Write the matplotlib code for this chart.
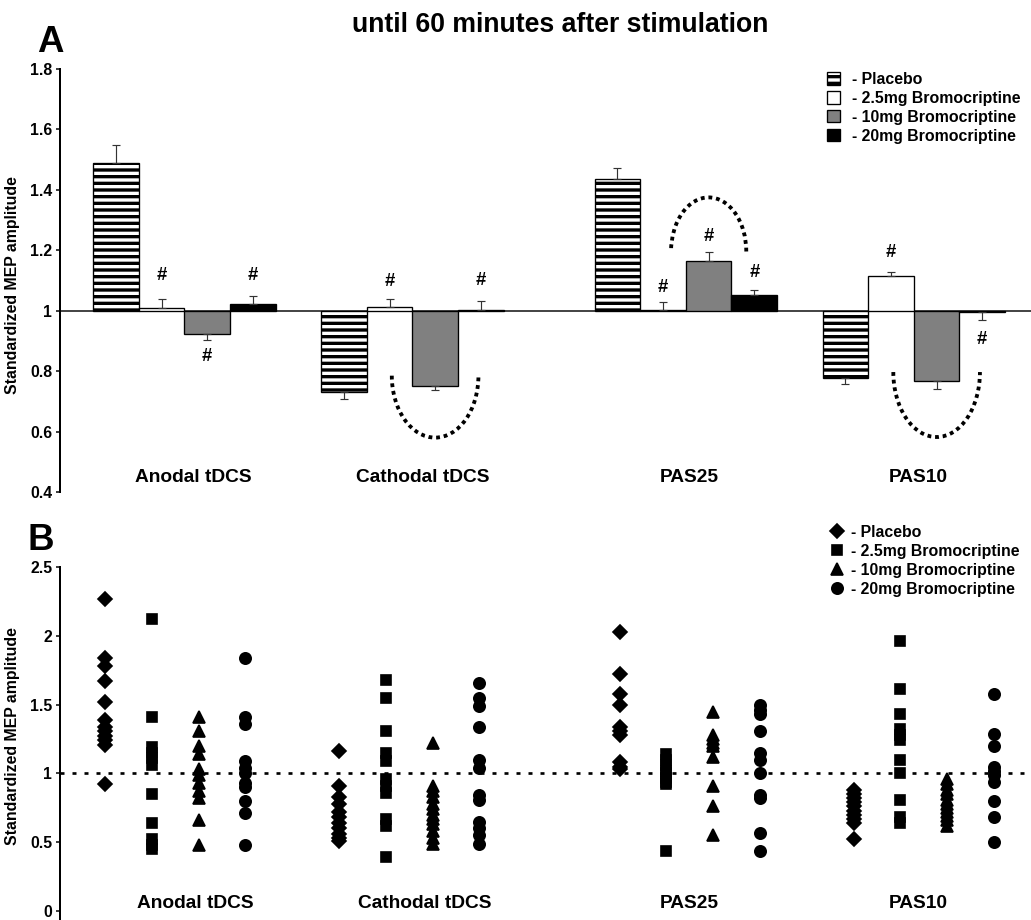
import numpy as np
import matplotlib
matplotlib.use('Agg')
import matplotlib.pyplot as plt
from matplotlib.patches import Arc
from matplotlib.lines import Line2D

plt.rcParams['font.family'] = ['Liberation Sans', 'DejaVu Sans']
plt.rcParams['font.weight'] = 'bold'
plt.rcParams['axes.labelweight'] = 'bold'
plt.rcParams['hatch.linewidth'] = 2.0

# ---- data ----
protocols = ['Anodal tDCS', 'Cathodal tDCS', 'PAS25', 'PAS10']
drugs = ['- Placebo', '- 2.5mg Bromocriptine', '- 10mg Bromocriptine', '- 20mg Bromocriptine']
group_start = [0, 5, 11, 16]

# panel A: mean standardized MEP amplitude (one value per protocol)
bar_placebo = [1.488, 0.732, 1.435, 0.777]
bar_2_5 = [1.009, 1.012, 1.002, 1.114]
bar_10 = [0.924, 0.752, 1.164, 0.768]
bar_20 = [1.023, 1.004, 1.053, 0.995]
err_placebo = [0.062, 0.024, 0.038, 0.019]
err_2_5 = [0.030, 0.027, 0.026, 0.013]
err_10 = [0.020, 0.014, 0.029, 0.028]
err_20 = [0.027, 0.027, 0.014, 0.025]

# '#' marks: (protocol, drug, y)
hash_marks = [(0, 1, 1.116), (0, 2, 0.847), (0, 3, 1.116),
              (1, 1, 1.096), (1, 3, 1.100),
              (2, 1, 1.076), (2, 2, 1.245), (2, 3, 1.126),
              (3, 1, 1.192), (3, 3, 0.904)]

# dotted brackets: (protocol, width, base y, depth, direction)
arcs = [(1, 1.9, 0.785, 0.205, 'down'),
        (2, 1.65, 1.196, 0.179, 'up'),
        (3, 1.9, 0.797, 0.215, 'down')]

# panel B: individual subjects
pts_placebo = [
    [2.27, 1.84, 1.78, 1.67, 1.52, 1.39, 1.34, 1.31, 1.27, 1.24, 1.21, 0.92],
    [1.16, 0.91, 0.83, 0.78, 0.72, 0.68, 0.64, 0.60, 0.56, 0.53, 0.51],
    [2.03, 1.72, 1.58, 1.50, 1.34, 1.31, 1.28, 1.08, 1.05, 1.03],
    [0.88, 0.85, 0.82, 0.79, 0.76, 0.73, 0.70, 0.67, 0.64, 0.52],
]
pts_2_5 = [
    [2.12, 1.41, 1.19, 1.15, 1.11, 1.06, 0.85, 0.64, 0.52, 0.48, 0.45],
    [1.68, 1.55, 1.31, 1.15, 1.09, 0.96, 0.91, 0.86, 0.67, 0.62, 0.39],
    [1.14, 1.10, 1.06, 1.02, 1.00, 0.97, 0.94, 0.92, 0.44],
    [1.96, 1.61, 1.43, 1.32, 1.28, 1.24, 1.10, 1.00, 0.81, 0.68, 0.64],
]
pts_10 = [
    [1.41, 1.31, 1.20, 1.14, 1.03, 0.99, 0.93, 0.87, 0.82, 0.66, 0.48],
    [1.22, 0.91, 0.87, 0.83, 0.78, 0.74, 0.70, 0.67, 0.63, 0.58, 0.53, 0.49],
    [1.45, 1.28, 1.25, 1.22, 1.20, 1.12, 0.91, 0.76, 0.55],
    [0.96, 0.92, 0.88, 0.85, 0.81, 0.78, 0.75, 0.72, 0.69, 0.66, 0.62],
]
pts_20 = [
    [1.84, 1.41, 1.36, 1.09, 1.04, 1.00, 0.93, 0.90, 0.80, 0.71, 0.48],
    [1.66, 1.55, 1.49, 1.34, 1.10, 1.04, 0.84, 0.81, 0.65, 0.60, 0.55, 0.49],
    [1.50, 1.46, 1.43, 1.31, 1.15, 1.10, 1.00, 0.84, 0.82, 0.57, 0.44],
    [1.58, 1.29, 1.20, 1.05, 1.02, 0.99, 0.94, 0.80, 0.68, 0.50],
]

label_x_a = [1.70, 6.73, 12.57, 17.59]
label_x_b = [1.94, 6.84, 12.49, 17.38]

# ---- figure ----
W, H, DPI = 1031, 920, 120
fig = plt.figure(figsize=(W / DPI, H / DPI), dpi=DPI)

axA = fig.add_axes([59.5 / W, 1 - 492 / H, 971.5 / W, 423 / H])
axB = fig.add_axes([59.5 / W, 0, 971.5 / W, 353 / H])

for ax in (axA, axB):
    for s in ('top', 'right', 'bottom'):
        ax.spines[s].set_visible(False)
    ax.spines['left'].set_linewidth(1.2)
    ax.set_xticks([])
    ax.tick_params(axis='y', length=2.4, width=0.9, pad=2, labelsize=9.5)
    ax.patch.set_alpha(0)

# ---- panel A ----
bar_vals = [bar_placebo, bar_2_5, bar_10, bar_20]
bar_errs = [err_placebo, err_2_5, err_10, err_20]
styles = [dict(color='white', hatch='---'),
          dict(color='white'),
          dict(color='#808080'),
          dict(color='black')]

axA.axhline(1, color='#222222', lw=1.0, zorder=1)
handles_a = []
for d in range(4):
    xs = np.array(group_start) + d
    vals = np.array(bar_vals[d])
    errs = np.array(bar_errs[d])
    b = axA.bar(xs, vals - 1, bottom=1, width=1.0, edgecolor='black',
                linewidth=0.8, zorder=2, label=drugs[d], **styles[d])
    handles_a.append(b)
    lo = np.where(vals < 1, errs, 0)
    hi = np.where(vals >= 1, errs, 0)
    axA.errorbar(xs, vals, yerr=[lo, hi], fmt='none', ecolor='#333333',
                 elinewidth=0.7, capsize=2.4, capthick=0.7, zorder=3)

for g, d, y in hash_marks:
    axA.text(group_start[g] + d, y, '#', ha='center', va='center',
             fontsize=11, fontweight='bold')

for g, w, yb, depth, direction in arcs:
    cx = group_start[g] + 2
    if direction == 'down':
        t1, t2 = 180, 360
    else:
        t1, t2 = 0, 180
    axA.add_patch(Arc((cx, yb), w, 2 * depth, theta1=t1, theta2=t2,
                      color='black', lw=2.3, linestyle=(0, (1, 1.0))))

for x, name in zip(label_x_a, protocols):
    axA.text(x, 0.449, name, ha='center', va='center', fontsize=11.5)

axA.set_xlim(-1.239, 20.07)
axA.set_ylim(0.4, 1.8)
axA.set_yticks([0.4, 0.6, 0.8, 1.0, 1.2, 1.4, 1.6, 1.8])
axA.set_yticklabels(['0.4', '0.6', '0.8', '1', '1.2', '1.4', '1.6', '1.8'])
axA.set_ylabel('Standardized MEP amplitude', fontsize=9.5, fontweight='bold')
axA.yaxis.set_label_coords(-0.041, 0.489)

axA.legend(handles=handles_a, labels=drugs, loc='upper left',
           bbox_to_anchor=(827 / W, 1 - 72 / H), bbox_transform=fig.transFigure,
           frameon=False, fontsize=9.5, handlelength=0.85, handleheight=0.8,
           handletextpad=0.75, labelspacing=0.25, borderpad=0, borderaxespad=0)

# ---- panel B ----
axB.axhline(1, color='black', lw=1.6, linestyle=(0, (1.5, 3)), zorder=1)
markers = [('D', 5.6), ('s', 6.2), ('^', 7.4), ('o', 6.8)]
all_pts = [pts_placebo, pts_2_5, pts_10, pts_20]
handles_b = []
for d in range(4):
    m, ms = markers[d]
    for g in range(4):
        vals = all_pts[d][g]
        axB.plot(np.full(len(vals), group_start[g] + d), vals, linestyle='none',
                 marker=m, markersize=ms, color='black', zorder=3)
    handles_b.append(Line2D([], [], linestyle='none', marker=m, markersize=ms,
                            color='black'))

for x, name in zip(label_x_b, protocols):
    axB.text(x, 0.055, name, ha='center', va='center', fontsize=11.5)

axB.set_xlim(-0.972, 19.79)
axB.set_ylim(-0.065, 2.5)
axB.set_yticks([0, 0.5, 1, 1.5, 2, 2.5])
axB.set_yticklabels(['0', '0.5', '1', '1.5', '2', '2.5'])
axB.set_ylabel('Standardized MEP amplitude', fontsize=9.5, fontweight='bold')
axB.yaxis.set_label_coords(-0.041, 0.52)

axB.legend(handles=handles_b, labels=drugs, loc='upper left',
           bbox_to_anchor=(830 / W, 1 - 525 / H), bbox_transform=fig.transFigure,
           frameon=False, fontsize=9.5, handlelength=0.9, numpoints=1,
           handletextpad=0.45, labelspacing=0.25, borderpad=0, borderaxespad=0)

# ---- titles ----
fig.text(560 / W, 1 - 32 / H, 'until 60 minutes after stimulation',
         ha='center', va='baseline', fontsize=16)
fig.text(37 / W, 1 - 52 / H, 'A', ha='left', va='baseline', fontsize=22)
fig.text(28 / W, 1 - 550 / H, 'B', ha='left', va='baseline', fontsize=22)

fig.savefig('out.png', dpi=DPI)
